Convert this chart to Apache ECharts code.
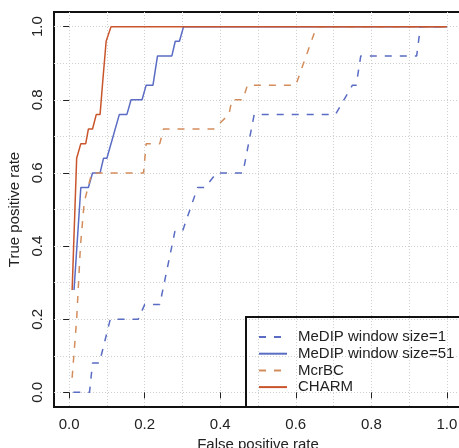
<!DOCTYPE html>
<html>
<head>
<meta charset="utf-8">
<script src="https://cdn.jsdelivr.net/npm/echarts@6/dist/echarts.min.js"></script>
<style>
  html, body { margin: 0; padding: 0; background: #fff; }
  #main { width: 459px; height: 448px; }
</style>
</head>
<body>
<div id="main"></div>
<script>
// ROC curves
const seriesNames = ['MeDIP window size=1', 'MeDIP window size=51', 'McrBC', 'CHARM'];

const medip1X = [0.011, 0.054, 0.062, 0.08, 0.109, 0.183, 0.2, 0.24, 0.28, 0.3, 0.34, 0.36, 0.39, 0.46, 0.49, 0.705, 0.75, 0.76, 0.772, 0.92, 0.93, 1];
const medip1Y = [0, 0, 0.08, 0.08, 0.2, 0.2, 0.24, 0.24, 0.44, 0.44, 0.56, 0.56, 0.6, 0.6, 0.76, 0.76, 0.84, 0.84, 0.92, 0.92, 1, 1];

const medip51X = [0.013, 0.031, 0.051, 0.062, 0.082, 0.091, 0.1, 0.133, 0.153, 0.164, 0.193, 0.204, 0.222, 0.234, 0.272, 0.281, 0.292, 0.303, 1];
const medip51Y = [0.28, 0.56, 0.56, 0.6, 0.6, 0.64, 0.64, 0.76, 0.76, 0.8, 0.8, 0.84, 0.84, 0.92, 0.92, 0.96, 0.96, 1, 1];

const mcrbcX = [0.008, 0.02, 0.03, 0.04, 0.06, 0.197, 0.204, 0.24, 0.25, 0.383, 0.423, 0.431, 0.46, 0.472, 0.6, 0.655, 1];
const mcrbcY = [0.04, 0.2, 0.4, 0.52, 0.6, 0.6, 0.68, 0.68, 0.72, 0.72, 0.76, 0.8, 0.8, 0.84, 0.84, 1, 1];

const charmX = [0.008, 0.02, 0.031, 0.044, 0.051, 0.062, 0.072, 0.082, 0.089, 0.098, 0.111, 1];
const charmY = [0.28, 0.64, 0.68, 0.68, 0.72, 0.72, 0.76, 0.76, 0.85, 0.96, 1, 1];

const tickValues = [0, 0.2, 0.4, 0.6, 0.8, 1.0];
const gridValues = [0, 0.1, 0.2, 0.3, 0.4, 0.5, 0.6, 0.7, 0.8, 0.9, 1.0];

const colors = ['#5a6cc4', '#5a6cc4', '#d38d5c', '#c8552c'];
const dashed = [true, false, true, false];

function zip(xs, ys) {
  return xs.map((x, i) => [x, ys[i]]);
}
const allData = [zip(medip1X, medip1Y), zip(medip51X, medip51Y), zip(mcrbcX, mcrbcY), zip(charmX, charmY)];

const font = 'Liberation Sans, Arial, sans-serif';

// axis with labels/ticks, and a hidden twin that only draws the dotted grid
function mainAxis(isY) {
  return {
    type: 'value',
    min: -0.04,
    max: 1.04,
    position: isY ? 'left' : 'bottom',
    name: isY ? 'True positive rate' : 'False positive rate',
    nameLocation: 'middle',
    nameGap: isY ? 28 : 29,
    nameTextStyle: { fontFamily: font, fontSize: 15, color: '#222' },
    axisLine: { show: false },
    axisTick: { show: true, length: 6, customValues: tickValues, lineStyle: { color: '#222', width: 1 } },
    axisLabel: {
      customValues: tickValues,
      formatter: v => v.toFixed(1),
      fontFamily: font, fontSize: 15, color: '#222',
      margin: isY ? 9 : 10,
      rotate: isY ? 90 : 0
    },
    splitLine: { show: false }
  };
}
function gridAxis(isY) {
  return {
    type: 'value',
    min: -0.04,
    max: 1.04,
    position: isY ? 'left' : 'bottom',
    axisLine: { show: false },
    axisTick: { show: false, customValues: gridValues },
    axisLabel: { show: false, customValues: gridValues },
    splitLine: { show: true, lineStyle: { color: '#cfcfcf', type: [1, 2], width: 1 } }
  };
}

const chart = echarts.init(document.getElementById('main'), null, { renderer: 'canvas' });

chart.setOption({
  animation: false,
  backgroundColor: '#fff',
  grid: {
    left: 54, top: 12, right: -3, bottom: 41,
    outerBoundsMode: 'none',
    containLabel: false,
    show: true, borderColor: '#111', borderWidth: 2, backgroundColor: 'transparent'
  },
  xAxis: [mainAxis(false), gridAxis(false)],
  yAxis: [mainAxis(true), gridAxis(true)],
  legend: {
    orient: 'vertical',
    left: 246, top: 317,
    padding: [12, 40, 12, 12],
    borderColor: '#111', borderWidth: 2,
    itemWidth: 28, itemHeight: 10, itemGap: 0.7,
    itemStyle: { opacity: 0 },
    textStyle: { fontFamily: font, fontSize: 15, color: '#222', lineHeight: 16, padding: [0, 0, 0, 6] },
    data: seriesNames
  },
  series: seriesNames.map((name, i) => ({
    name: name,
    type: 'line',
    xAxisIndex: 0,
    yAxisIndex: 0,
    symbol: 'none',
    data: allData[i],
    color: colors[i],
    lineStyle: { color: colors[i], width: 1.5, type: dashed[i] ? [7, 8] : 'solid' },
    z: 3 + i
  }))
});
</script>
</body>
</html>
